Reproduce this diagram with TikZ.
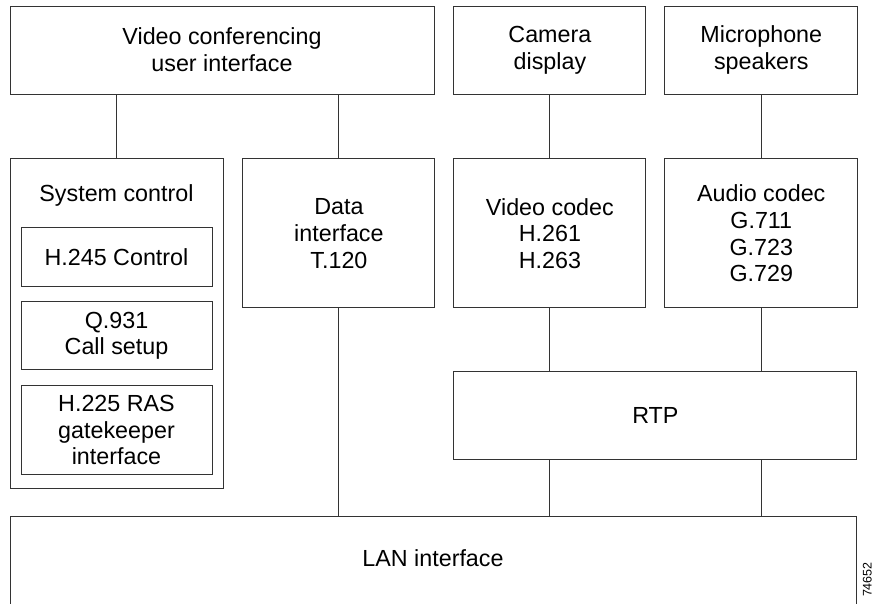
\documentclass[tikz,border=0pt]{standalone}
\usepackage{fontspec}
\setmainfont{Liberation Sans}
\usetikzlibrary{positioning}

\begin{document}
\begin{tikzpicture}[x=1pt, y=-1pt, node distance=19pt,
	blk/.style={draw=black!80, line width=0.9pt, rectangle, align=center, inner sep=0pt, font=\fontsize{23.3}{26.7}\selectfont},
	lbl/.style={inner sep=0pt, align=center, font=\fontsize{23.3}{26.7}\selectfont},
	wire/.style={draw=black!80, line width=0.9pt}]

	\useasboundingbox (0,0) rectangle (873,603);

	\node[blk, minimum width=424pt, minimum height=88pt] (ui) at (222,50) {Video conferencing\\user interface};
	\node[blk, minimum width=192pt, minimum height=88pt, right=of ui] (cam) {Camera\\display};
	\node[blk, minimum width=193pt, minimum height=88pt, right=18pt of cam] (mic) {Microphone\\speakers};

	\node[blk, minimum width=213pt, minimum height=330pt, below right=64pt and 0pt of ui.south west] (sys) {};
	\node[lbl, below=43pt of sys.north, anchor=base] (syslbl) {System control};
	\node[blk, minimum width=191pt, minimum height=59pt, below=69pt of sys.north] (h245) {H.245 Control};
	\node[blk, minimum width=191pt, minimum height=68pt, below=14pt of h245] (q931) {Q.931\\Call setup};
	\node[blk, minimum width=191pt, minimum height=89pt, below=15pt of q931] (h225) {H.225 RAS\\gatekeeper\\interface};

	\node[blk, minimum width=192pt, minimum height=149pt, right=of sys.north east, anchor=north west] (data) {Data\\interface\\T.120};
	\node[blk, minimum width=192pt, minimum height=149pt, below=64pt of cam] (vid) {Video codec\\H.261\\H.263};
	\node[blk, minimum width=193pt, minimum height=149pt, below=64pt of mic] (aud) {Audio codec\\G.711\\G.723\\G.729};

	\node[blk, minimum width=403pt, minimum height=88pt, below right=63pt and 0pt of vid.south west] (rtp) {RTP};
	\node[blk, minimum width=846pt, minimum height=100pt, below right=358pt and 0pt of sys.north west] (lan) {};
	\node[lbl] (lanlbl) at (433,558) {LAN interface};

	\node[inner sep=0pt, font=\fontsize{12.5}{14}\selectfont, rotate=90, anchor=south east] (fig) at (872,562) {74652};

	\path[wire] (sys.north) -- (sys.north |- ui.south);
	\path[wire] (data.north) -- (data.north |- ui.south);
	\path[wire] (cam.south) -- (vid.north);
	\path[wire] (mic.south) -- (aud.north);
	\path[wire] (vid.south) -- (vid.south |- rtp.north);
	\path[wire] (aud.south) -- (aud.south |- rtp.north);
	\path[wire] (rtp.south -| vid) -- (lan.north -| vid);
	\path[wire] (rtp.south -| aud) -- (lan.north -| aud);
	\path[wire] (data.south) -- (data.south |- lan.north);

\end{tikzpicture}
\end{document}
